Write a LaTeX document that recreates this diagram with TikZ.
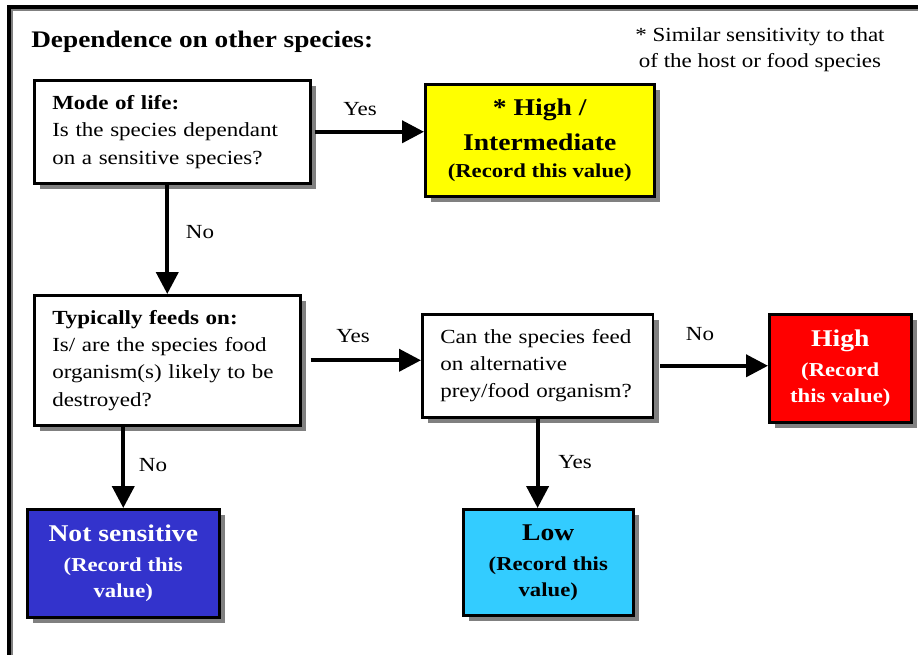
\documentclass[tikz,border=0pt]{standalone}
\usepackage{fontspec}
\setmainfont{Liberation Serif}[FakeStretch=1.15]
\usetikzlibrary{arrows.meta,shadows}
\definecolor{ybox}{HTML}{FFFF00}
\definecolor{rbox}{HTML}{FF0000}
\definecolor{bbox}{HTML}{3333CC}
\definecolor{cbox}{HTML}{33CCFF}
\definecolor{shgray}{HTML}{808080}
\begin{document}
\begin{tikzpicture}[x=0.75pt,y=-0.75pt,
  shadowed/.style={drop shadow={shadow xshift=4.5pt,shadow yshift=-4.5pt,fill=shgray,opacity=1}},
  qbox/.style={draw,line width=1.9pt,fill=white,anchor=north west,align=left,
    inner xsep=13.5pt,inner ysep=0pt,font=\fontsize{15}{20.5}\selectfont,shadowed},
  vbox/.style={draw,line width=1.9pt,anchor=north west,align=center,inner sep=0pt,
    font=\fontsize{14.8}{19.5}\selectfont\bfseries,shadowed},
  arr/.style={line width=3pt,-{Triangle[length=16.5pt,width=16.5pt]}},
  lbl/.style={anchor=base,inner sep=0pt,font=\fontsize{15}{18}\selectfont}]
\clip (0,0) rectangle (918,654);
\fill[white] (0,0) rectangle (918,654);
% frame
\draw[shgray,line width=2pt] (12,10) rectangle (960,700);
\draw[line width=2.5pt] (9,7) rectangle (960,700);
% title and note
\node[anchor=base west,inner sep=0pt,font=\fontsize{17.8}{21}\selectfont\bfseries] (title) at (31,47) {Dependence on other species:};
\node[anchor=base,inner sep=0pt,align=center,font=\fontsize{15}{19.5}\selectfont] (note) at (760,67) {* Similar sensitivity to that\\of the host or food species};
% boxes
\node[qbox,text width=180pt,minimum height=77.25pt] (box1) at (33,79)
  {\textbf{Mode of life:}\\Is the species dependant\\on a sensitive species?};
\node[vbox,fill=ybox,minimum width=171.75pt,minimum height=84pt] (yellow) at (424,83)
  {{\fontsize{18}{22}\selectfont * High /}\\[6.75pt]{\fontsize{18}{22}\selectfont Intermediate}\\[0.75pt](Record this value)};
\node[qbox,text width=172.5pt,minimum height=97.5pt] (box2) at (33,294)
  {\textbf{Typically feeds on:}\\Is/ are the species food\\organism(s) likely to be\\destroyed?};
\node[qbox,text width=146pt,minimum height=77.25pt] (box3) at (421,313)
  {Can the species feed\\on alternative\\prey/food organism?};
\node[vbox,fill=rbox,text=white,minimum width=106.5pt,minimum height=81pt] (red) at (768,313)
  {{\fontsize{18}{22}\selectfont High}\\[3pt](Record\\this value)};
\node[vbox,fill=bbox,text=white,minimum width=144pt,minimum height=81pt] (blue) at (26,508)
  {{\fontsize{18}{22}\selectfont Not sensitive}\\[3pt](Record this\\value)};
\node[vbox,fill=cbox,minimum width=127.5pt,minimum height=79.5pt] (cyan) at (462,508)
  {{\fontsize{18}{22}\selectfont Low}\\[3pt](Record this\\value)};
% connectors
\draw[arr,shorten <=2.25pt] (box1.east) -- (box1.east -| yellow.west);
\draw[arr] (box1.south -| box2.north) -- (box2.north);
\draw[arr,shorten <=6.75pt] (box2.east) -- (box2.east -| box3.west);
\draw[arr,shorten <=4.5pt] (box3.east) -- (box3.east -| red.west);
\draw[arr] (box2.south -| blue.north) -- (blue.north);
\draw[arr] (box3.south) -- (box3.south |- cyan.north);
% labels
\node[lbl] (l1) at (360,115) {Yes};
\node[lbl] (l2) at (200,238) {No};
\node[lbl] (l3) at (353,342) {Yes};
\node[lbl] (l4) at (153,471) {No};
\node[lbl] (l5) at (700,340) {No};
\node[lbl] (l6) at (575,468) {Yes};
\end{tikzpicture}
\end{document}
